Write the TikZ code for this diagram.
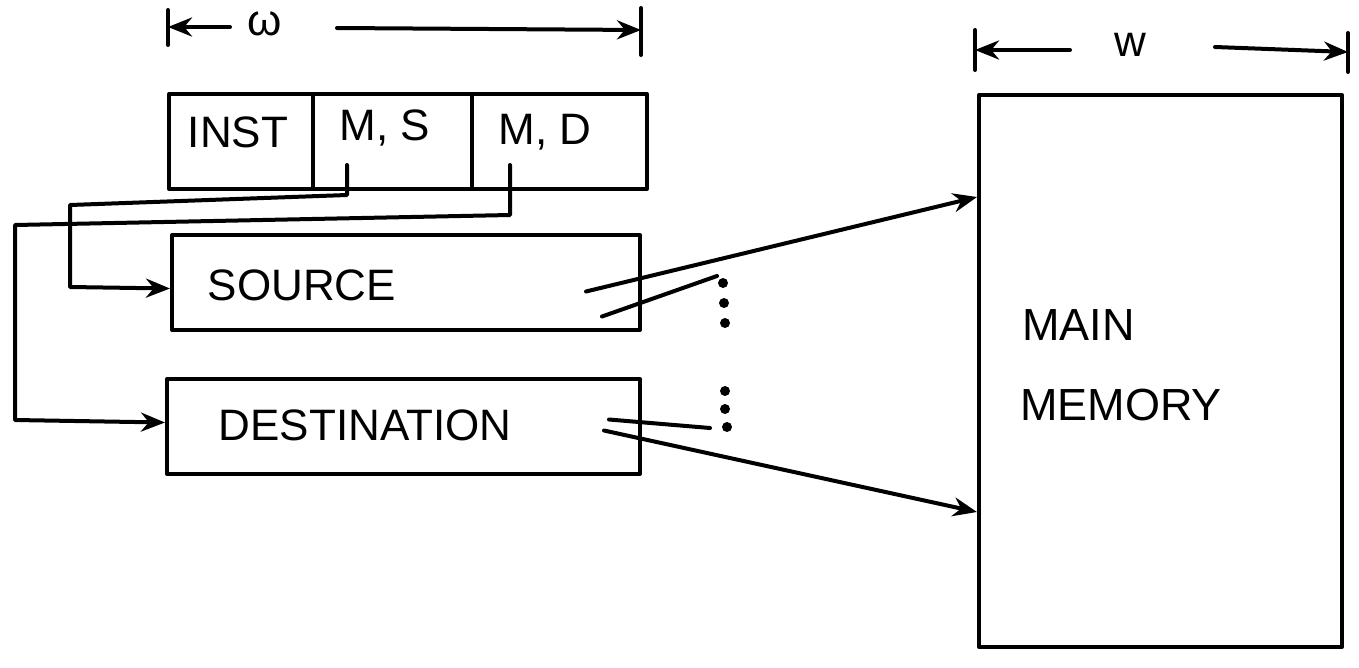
\documentclass[tikz,border=0pt]{standalone}
\usepackage{fontspec}
\setmainfont{Liberation Sans}
\usetikzlibrary{arrows.meta,calc}
\begin{document}
\begin{tikzpicture}[x=1pt,y=-1pt, line width=4pt, line join=round, line cap=round,
  box/.style={draw, rectangle, inner sep=0pt},
  lbl/.style={inner sep=0pt, font=\fontsize{44}{48}\selectfont},
  mlbl/.style={inner sep=0pt, anchor=west, font=\fontsize{45}{50}\selectfont},
  arr/.style={-{Stealth[length=24pt,width=19pt]}},
  dot/.style={fill, circle, inner sep=0pt, minimum size=10pt},
]
\useasboundingbox[fill=white] (0,0) rectangle (1359,667);
% instruction register
\node[box, minimum width=144pt, minimum height=95pt, anchor=north west] (inst) at (167,92) {};
\node[box, minimum width=159pt, minimum height=95pt, anchor=north west] (ms) at (311,92) {};
\node[box, minimum width=175pt, minimum height=95pt, anchor=north west] (md) at (470,92) {};
\node[lbl] (tinst) at (238,132) {INST};
\node[lbl] (tms) at (385,128) {M, S};
\node[lbl] (tmd) at (545,132) {M, D};
% source and destination
\node[box, minimum width=468pt, minimum height=95pt, anchor=north west] (src) at (170,233) {};
\node[box, minimum width=473pt, minimum height=95pt, anchor=north west] (dst) at (165,377) {};
\node[lbl] (tsrc) at (302,285) {SOURCE};
\node[lbl] (tdst) at (365,425) {DESTINATION};
% main memory
\node[box, minimum width=363pt, minimum height=552pt, anchor=north west] (mem) at (977,93) {};
\node[mlbl] (tmain) at (1020,325) {MAIN};
\node[mlbl] (tmemory) at (1018,405) {MEMORY};
% width dimensions
\coordinate (l1) at (168,10); \coordinate (l2) at (168,45);
\coordinate (r1) at (641,8); \coordinate (r2) at (641,55);
\draw (l1) -- (l2);
\draw (r1) -- (r2);
\node[lbl] (w1) at (265,24) {ω};
\draw[arr] (230,27) -- (l1 |- 0,27);
\draw[arr] (337,28) -- (r1 |- 0,30);
\coordinate (m1) at (975,30); \coordinate (m2) at (975,70);
\coordinate (n1) at (1348,33); \coordinate (n2) at (1348,72);
\draw (m1) -- (m2);
\draw (n1) -- (n2);
\node[lbl] (w2) at (1130,45) {w};
\draw[arr] (1070,50) -- (m1 |- 0,50);
\draw[arr] (1215,47) -- (n1 |- 0,52);
% connectors from address fields
\coordinate (msp) at (347,165);
\coordinate (mdp) at (510,165);
\draw[arr] (msp) -- (347,195) -- (70,205) -- (70,287) -- ([yshift=-6pt]src.west);
\draw[arr] (mdp) -- (510,215) -- (15,225) -- (15,420) -- ([yshift=4pt]dst.west);
% source to memory
\draw[arr] ($(src.east)+(-56,9)$) -- ($(mem.north west)+(0,104)$);
\coordinate (se) at (717,276);
\draw ($(src.east)+(-40,34)$) -- (se);
\node[dot] (d1) at (723,283) {};
\node[dot] (d2) at (724,303) {};
\node[dot] (d3) at (725,323) {};
% destination to memory
\coordinate (de) at (710,428);
\draw ($(dst.east)+(-33,-7)$) -- (de);
\draw[arr] ($(dst.east)+(-38,4)$) -- ($(mem.north west)+(0,419)$);
\node[dot] (e1) at (725,391) {};
\node[dot] (e2) at (725,409) {};
\node[dot] (e3) at (727,427) {};
\end{tikzpicture}
\end{document}
